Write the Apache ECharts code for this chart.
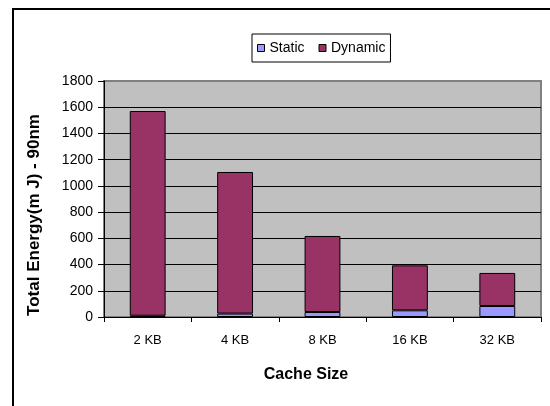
<!DOCTYPE html>
<html>
<head>
<meta charset="utf-8">
<style>
  html, body { margin: 0; padding: 0; background: #ffffff; }
  #chart { width: 550px; height: 406px; }
</style>
<script src="https://cdn.jsdelivr.net/npm/echarts@6/dist/echarts.min.js"></script>
</head>
<body>
<div id="chart"></div>
<script>
// Total energy per cache size, split into static and dynamic parts (mJ, 90nm)
const cacheSizes = ['2 KB', '4 KB', '8 KB', '16 KB', '32 KB'];
const staticEnergy = [10, 26, 38, 51, 84];
const dynamicEnergy = [1561, 1080, 580, 343, 252];
const yTicks = { min: 0, max: 1800, interval: 200 };

const FONT = '"Liberation Sans", Arial, sans-serif';

const chart = echarts.init(document.getElementById('chart'), null, { renderer: 'canvas' });

chart.setOption({
  backgroundColor: '#ffffff',
  animation: false,
  graphic: [{
    type: 'rect',
    shape: { x: 13, y: 9, width: 700, height: 600 },
    style: { fill: 'none', stroke: '#000000', lineWidth: 2 },
    silent: true
  }],
  legend: {
    left: 252,
    top: 34,
    padding: [7, 5, 7, 5],
    itemGap: 14,
    itemWidth: 7,
    itemHeight: 7,
    icon: 'rect',
    borderColor: '#000000',
    borderWidth: 1,
    backgroundColor: '#ffffff',
    textStyle: { fontFamily: FONT, fontSize: 14, color: '#000000' },
    itemStyle: { borderColor: '#000000', borderWidth: 1 },
    data: ['Static', 'Dynamic']
  },
  grid: {
    left: 104,
    right: 9,
    top: 81,
    bottom: 89,
    show: true,
    backgroundColor: '#C0C0C0',
    borderColor: '#808080',
    borderWidth: 2
  },
  xAxis: {
    type: 'category',
    data: cacheSizes,
    boundaryGap: true,
    name: 'Cache Size',
    nameLocation: 'middle',
    nameGap: 50,
    nameTextStyle: {
      fontFamily: FONT, fontSize: 16, fontWeight: 'bold', color: '#000000',
      padding: [0, 33, 0, 0]
    },
    axisLine: { lineStyle: { color: '#000000', width: 1 } },
    axisTick: { show: true, length: 5, alignWithLabel: false, lineStyle: { color: '#000000' } },
    axisLabel: { fontFamily: FONT, fontSize: 13, color: '#000000', margin: 17 },
    splitLine: { show: false }
  },
  yAxis: {
    type: 'value',
    min: yTicks.min,
    max: yTicks.max,
    interval: yTicks.interval,
    name: 'Total Energy(m J) - 90nm',
    nameLocation: 'middle',
    nameGap: 61,
    nameTextStyle: {
      fontFamily: FONT, fontSize: 17, fontWeight: 'bold', color: '#000000',
      padding: [0, 32, 0, 0]
    },
    axisLine: { show: true, lineStyle: { color: '#000000', width: 1 } },
    axisTick: { show: true, length: 6, lineStyle: { color: '#000000' } },
    axisLabel: {
      fontFamily: FONT, fontSize: 14, color: '#000000', margin: 11,
      formatter: (v) => String(v)
    },
    splitLine: { show: true, showMaxLine: false, lineStyle: { color: '#000000', width: 1 } }
  },
  series: [
    {
      name: 'Static',
      type: 'bar',
      stack: 'energy',
      barWidth: '41%',
      data: staticEnergy,
      itemStyle: { color: '#9999FF', borderColor: '#000000', borderWidth: 1 }
    },
    {
      name: 'Dynamic',
      type: 'bar',
      stack: 'energy',
      barWidth: '41%',
      data: dynamicEnergy,
      itemStyle: { color: '#993366', borderColor: '#000000', borderWidth: 1 }
    }
  ]
});
</script>
</body>
</html>
